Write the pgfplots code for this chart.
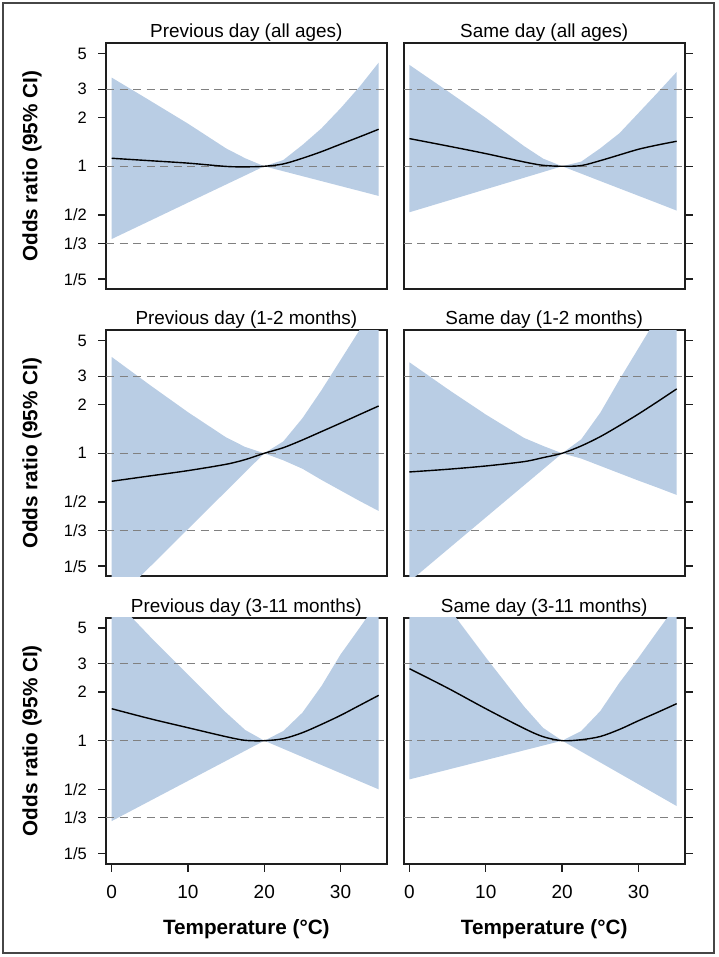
\documentclass[border=0pt]{standalone}
\usepackage{fontspec}
\setmainfont{Liberation Sans}
\usepackage{pgfplots}
\pgfplotsset{compat=1.18}
\definecolor{band}{RGB}{185,205,228}
\definecolor{boxc}{RGB}{30,30,30}
\definecolor{refgray}{RGB}{128,128,128}
\definecolor{framec}{RGB}{70,70,70}
\pgfplotsset{
 every axis/.append style={
  scale only axis, height=246pt, anchor=south west,
  xmin=-0.75, xmax=36.05, ymin=0.173, ymax=5.78,
  ytick={0.2,0.333333,0.5,1,2,3,5},
  yminorticks=false, xminorticks=false, no markers,
  tick align=outside, major tick length=8pt,
  axis line style={draw=boxc, line width=2pt},
  tick style={boxc, line width=1.4pt},
  title style={at={(0.5,1)}, anchor=south, inner sep=0pt, yshift=-4.5pt, font=\fontsize{18.9}{20}\selectfont},
  yticklabel style={font=\fontsize{16.5}{16.5}\selectfont, inner sep=0pt, xshift=-11pt},
  xticklabel style={font=\fontsize{19}{19}\selectfont, inner sep=0pt, yshift=-13pt},
 },
}
\newcommand{\reflines}{%
 \addplot[refgray, line width=1.2pt, dash pattern=on 8pt off 5.5pt] coordinates {(-0.75,0.333333)(36.05,0.333333)};
 \addplot[refgray, line width=1.2pt, dash pattern=on 8pt off 5.5pt] coordinates {(-0.75,1)(36.05,1)};
 \addplot[refgray, line width=1.2pt, dash pattern=on 8pt off 5.5pt] coordinates {(-0.75,3)(36.05,3)};
}
\begin{document}
\begin{tikzpicture}
\path[use as bounding box] (0pt,0pt) rectangle (719pt,957pt);
\draw[framec, line width=1.6pt] (2.7pt,3.7pt) rectangle (714pt,953.7pt);

% Row 1 left
\begin{axis}[ymode=log, width=280.7pt, at={(106pt,667.7pt)}, ytick pos=left, yticklabels={1/5,1/3,1/2,1,2,3,5}, xtick=\empty,
  ylabel={Odds ratio (95\% CI)},
  ylabel style={font=\bfseries\fontsize{20.7}{22}\selectfont, at={(-0.2444,0.5)}, anchor=base},
  title={Previous day (all ages)}]
\addplot[fill=band, draw=none] coordinates {(0,3.543)(5,2.555)(10,1.837)(15,1.290)(17.5,1.121)(20,1)(22.5,1.094)(25,1.355)(27.5,1.719)(30,2.286)(32.5,3.114)(35,4.389)
(35,0.6551)(32.5,0.7033)(30,0.7543)(27.5,0.8094)(25,0.8685)(22.5,0.9319)(20,1)(17.5,0.8781)(15,0.7718)(10,0.5957)(5,0.4593)(0,0.3545)};
\reflines
\addplot[black, line width=1.4pt, smooth] coordinates {(0,1.121)(5,1.083)(10,1.046)(15,0.998)(17.5,0.992)(20,1)(22.5,1.034)(25,1.121)(27.5,1.232)(30,1.370)(32.5,1.522)(35,1.696)};
\end{axis}

% Row 1 right
\begin{axis}[ymode=log, width=281pt, at={(403.7pt,667.7pt)}, ytick pos=right, yticklabels={}, xtick=\empty,
  title={Same day (all ages)}]
\addplot[fill=band, draw=none] coordinates {(0,4.246)(5,2.921)(10,1.994)(15,1.334)(17.5,1.116)(20,1)(22.5,1.069)(25,1.293)(27.5,1.602)(30,2.138)(32.5,2.858)(35,3.842)
(35,0.5315)(32.5,0.591)(30,0.6564)(27.5,0.7291)(25,0.8098)(22.5,0.9003)(20,1)(17.5,0.9213)(15,0.8487)(10,0.7204)(5,0.6114)(0,0.519)};
\reflines
\addplot[black, line width=1.4pt, smooth] coordinates {(0,1.484)(5,1.336)(10,1.198)(15,1.064)(17.5,1.014)(20,1)(22.5,1.010)(25,1.084)(27.5,1.176)(30,1.275)(32.5,1.355)(35,1.429)};
\end{axis}

% Row 2 left
\begin{axis}[ymode=log, width=280.7pt, at={(106pt,380.7pt)}, ytick pos=left, yticklabels={1/5,1/3,1/2,1,2,3,5}, xtick=\empty,
  ylabel={Odds ratio (95\% CI)},
  ylabel style={font=\bfseries\fontsize{20.7}{22}\selectfont, at={(-0.2444,0.5)}, anchor=base},
  title={Previous day (1-2 months)}]
\addplot[fill=band, draw=none] coordinates {(0,3.95)(5,2.649)(10,1.797)(15,1.254)(17.5,1.094)(20,1)(22.5,1.185)(25,1.649)(27.5,2.46)(30,3.781)(32.5,5.812)(35,8.935)
(35,0.4391)(32.5,0.5066)(30,0.5886)(27.5,0.6839)(25,0.8025)(22.5,0.9048)(20,1)(17.5,0.7634)(15,0.5827)(10,0.3396)(5,0.1979)(0,0.1153)};
\reflines
\addplot[black, line width=1.4pt, smooth] coordinates {(0,0.671)(5,0.724)(10,0.781)(15,0.855)(17.5,0.914)(20,1)(22.5,1.083)(25,1.209)(27.5,1.363)(30,1.537)(32.5,1.738)(35,1.964)};
\end{axis}

% Row 2 right
\begin{axis}[ymode=log, width=281pt, at={(403.7pt,380.7pt)}, ytick pos=right, yticklabels={}, xtick=\empty,
  title={Same day (1-2 months)}]
\addplot[fill=band, draw=none] coordinates {(0,3.662)(5,2.502)(10,1.738)(15,1.246)(17.5,1.111)(20,1)(22.5,1.221)(25,1.786)(27.5,2.858)(30,4.482)(32.5,7.029)(35,11.02)
(35,0.5521)(32.5,0.6126)(30,0.6771)(27.5,0.752)(25,0.8353)(22.5,0.9277)(20,1)(17.5,0.7953)(15,0.6329)(10,0.4005)(5,0.2535)(0,0.1604)};
\reflines
\addplot[black, line width=1.4pt, smooth] coordinates {(0,0.7664)(5,0.7961)(10,0.8344)(15,0.8878)(17.5,0.9399)(20,1)(22.5,1.1107)(25,1.2687)(27.5,1.4844)(30,1.7524)(32.5,2.0898)(35,2.5043)};
\end{axis}

% Row 3 left
\begin{axis}[ymode=log, width=280.7pt, at={(106pt,93.3pt)}, ytick pos=left, yticklabels={1/5,1/3,1/2,1,2,3,5},
  xtick={0,10,20,30}, xtick pos=left, /pgf/number format/assume math mode=true,
  ylabel={Odds ratio (95\% CI)},
  ylabel style={font=\bfseries\fontsize{20.7}{22}\selectfont, at={(-0.2444,0.5)}, anchor=base},
  xlabel={Temperature (°C)},
  xlabel style={font=\bfseries\fontsize{20.7}{22}\selectfont, at={(0.5,-0.2858)}, anchor=base},
  title={Previous day (3-11 months)}]
\addplot[fill=band, draw=none] coordinates {(0,7.83)(5,4.428)(10,2.568)(15,1.492)(17.5,1.165)(20,1)(22.5,1.148)(25,1.492)(27.5,2.181)(30,3.421)(32.5,5.003)(35,7.389)
(35,0.4996)(32.5,0.5608)(30,0.6296)(27.5,0.7068)(25,0.7935)(22.5,0.8907)(20,1)(17.5,0.8668)(15,0.7509)(10,0.5638)(5,0.4234)(0,0.3179)};
\reflines
\addplot[black, line width=1.4pt, smooth] coordinates {(0,1.5778)(5,1.3689)(10,1.2032)(15,1.0587)(17.5,1.005)(20,1)(22.5,1.029)(25,1.121)(27.5,1.262)(30,1.435)(32.5,1.655)(35,1.910)};
\end{axis}

% Row 3 right
\begin{axis}[ymode=log, width=281pt, at={(403.7pt,93.3pt)}, ytick pos=right, yticklabels={},
  xtick={0,10,20,30}, xtick pos=left, /pgf/number format/assume math mode=true,
  xlabel={Temperature (°C)},
  xlabel style={font=\bfseries\fontsize{20.7}{22}\selectfont, at={(0.5,-0.2858)}, anchor=base},
  title={Same day (3-11 months)}]
\addplot[fill=band, draw=none] coordinates {(0,13.55)(5,6.793)(10,3.281)(15,1.632)(17.5,1.201)(20,1)(22.5,1.148)(25,1.527)(27.5,2.286)(30,3.268)(32.5,4.778)(35,6.959)
(35,0.3937)(32.5,0.4599)(30,0.5373)(27.5,0.6275)(25,0.733)(22.5,0.8562)(20,1)(17.5,0.9333)(15,0.8711)(10,0.7588)(5,0.661)(0,0.5758)};
\reflines
\addplot[black, line width=1.4pt, smooth] coordinates {(0,2.793)(5,2.119)(10,1.578)(15,1.192)(17.5,1.059)(20,1)(22.5,1.014)(25,1.062)(27.5,1.174)(30,1.330)(32.5,1.499)(35,1.696)};
\end{axis}
\end{tikzpicture}
\end{document}
